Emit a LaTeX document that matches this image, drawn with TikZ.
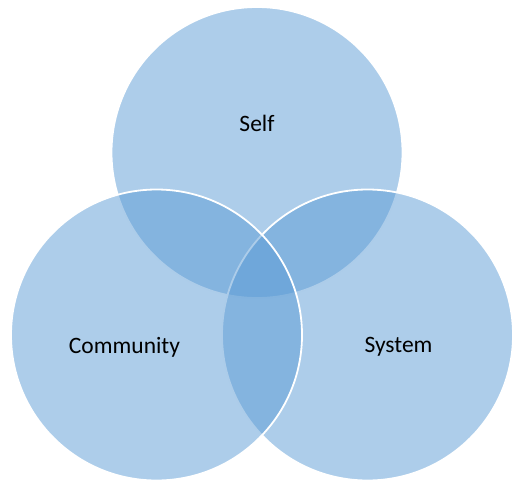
\documentclass[tikz,border=0pt]{standalone}
\usepackage{fontspec}
\setmainfont{Carlito}
\usepackage{tikz}
\usetikzlibrary{positioning}
\definecolor{setblue}{RGB}{91,155,213}
\tikzstyle{setcircle} = [circle, inner sep=0pt, minimum size=291pt, fill=setblue, fill opacity=0.5, draw=white, line width=1.8pt]
\tikzstyle{setlabel}  = [text=black, font=\fontsize{23.5}{28}\selectfont]

\begin{document}
\begin{tikzpicture}[x=1pt,y=-1pt]
        \useasboundingbox (0,0) rectangle (513,482);

        \node[setcircle] (self) at (257,152.5) {};
        \node[setcircle] (system) at (367.5,335) {};
        \node[setcircle] (community) at (156.5,335) {};

        \node[setlabel] (selflabel) at (257,123.5) {Self};
        \node[setlabel] (systemlabel) at (398.5,347) {System};
        \node[setlabel] (communitylabel) at (124.5,347) {Community};
    \end{tikzpicture}
\end{document}
